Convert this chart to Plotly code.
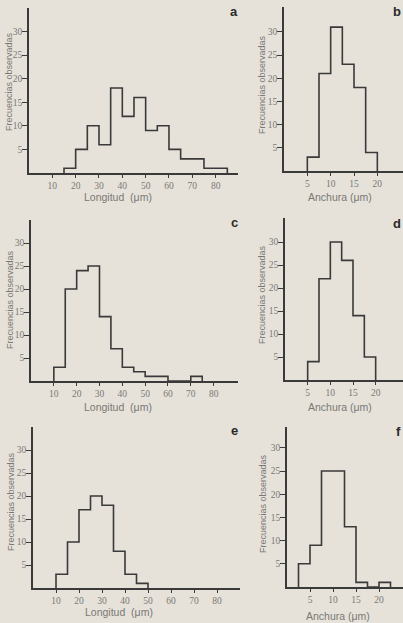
import plotly.graph_objects as go

W, H = 403, 623

# a: longitud (bins of 5 um)
a_edges = [15, 20, 25, 30, 35, 40, 45, 50, 55, 60, 65, 70, 75, 80, 85]
a_counts = [1, 5, 10, 6, 18, 12, 16, 9, 10, 5, 3, 3, 1, 1]
# b: anchura (bins of 2.5 um)
b_edges = [5, 7.5, 10, 12.5, 15, 17.5, 20]
b_counts = [3, 21, 31, 23, 18, 4]
# c: longitud
c_edges = [10, 15, 20, 25, 30, 35, 40, 45, 50, 55, 60, 65, 70, 75]
c_counts = [3, 20, 24, 25, 14, 7, 3, 2, 1, 1, 0, 0, 1]
# d: anchura
d_edges = [5, 7.5, 10, 12.5, 15, 17.5, 20]
d_counts = [4, 22, 30, 26, 14, 5]
# e: longitud
e_edges = [10, 15, 20, 25, 30, 35, 40, 45, 50]
e_counts = [3, 10, 17, 20, 18, 8, 3, 1]
# f: anchura
f_edges = [2.5, 5, 7.5, 10, 12.5, 15, 17.5, 20, 22.5]
f_counts = [5, 9, 25, 25, 13, 1, 0, 1]

long_ticks = [10, 20, 30, 40, 50, 60, 70, 80]
anch_ticks = [5, 10, 15, 20]
y_ticks = [5, 10, 15, 20, 25, 30]

panels = [
    # label, edges, counts, xticks, xtitle, px box (left, right, bottom, top), px/unit x, px/unit y,
    # label pos, y-title pos, x-title pos
    ("a", a_edges, a_counts, long_ticks, "Longitud  (μm)", (29, 238, 173, 8), 2.333, 4.72, (234, 12), (9, 82), (118, 197)),
    ("b", b_edges, b_counts, anch_ticks, "Anchura (μm)", (284, 403, 171, 7), 4.667, 4.64, (403, 12), (262, 85), (340, 197)),
    ("c", c_edges, c_counts, long_ticks, "Longitud  (μm)", (31, 238, 381, 220), 2.283, 4.6, (234, 222), (10, 300), (118, 407)),
    ("d", d_edges, d_counts, anch_ticks, "Anchura (μm)", (285, 403, 380, 218), 4.533, 4.6, (403, 223), (262, 295), (340, 407)),
    ("e", e_edges, e_counts, long_ticks, "Longitud  (μm)", (33, 240, 588, 427), 2.3, 4.6, (234, 430), (11, 502), (119, 612)),
    ("f", f_edges, f_counts, anch_ticks, "Anchura (μm)", (287, 403, 587, 427), 4.6, 4.64, (403, 432), (263, 504), (338, 616)),
]

INK = "#3a3a3a"
GREY = "#7a7874"
BG = "#e6e2da"

fig = go.Figure()
annotations = []

for i, (lab, edges, counts, xt, xtitle, geo, sx, sy, lab_pos, ytl_pos, xtl_pos) in enumerate(panels, start=1):
    left, right, bottom, top = geo
    xa = "xaxis" if i == 1 else f"xaxis{i}"
    ya = "yaxis" if i == 1 else f"yaxis{i}"
    xref = "x" if i == 1 else f"x{i}"
    yref = "y" if i == 1 else f"y{i}"

    # step outline of the histogram
    xs = [edges[0]] + list(edges)
    ys = [0] + list(counts) + [0]
    fig.add_trace(go.Scatter(
        x=xs, y=ys, mode="lines", line=dict(shape="hv", color=INK, width=1.6),
        xaxis=xref, yaxis=yref, showlegend=False, hoverinfo="skip",
    ))

    common = dict(
        showline=True, linecolor=INK, linewidth=1.6, showgrid=False, zeroline=False,
        ticks="outside", tickcolor=INK, tickwidth=1,
        tickfont=dict(family="Liberation Serif", size=9.5, color=GREY),
        fixedrange=True,
    )
    fig.update_layout({
        xa: dict(domain=[left / W, right / W], range=[0, (right - left) / sx],
                 tickvals=xt, anchor=yref, ticklen=3, **common),
        ya: dict(domain=[1 - bottom / H, 1 - top / H], range=[0, (bottom - top) / sy],
                 tickvals=y_ticks, anchor=xref, ticklen=5, ticklabelstandoff=-2, **common),
    })

    annotations.append(dict(
        text=f"<b>{lab}</b>", x=lab_pos[0] / W, y=1 - lab_pos[1] / H, xref="paper", yref="paper",
        showarrow=False, font=dict(family="Liberation Sans", size=13, color="#2a2a2a"),
        xanchor="right" if lab_pos[0] >= W else "center", yanchor="middle",
    ))
    annotations.append(dict(
        text="Frecuencias observadas", x=ytl_pos[0] / W, y=1 - ytl_pos[1] / H,
        xref="paper", yref="paper", showarrow=False, textangle=-90,
        font=dict(family="Liberation Sans", size=9, color=GREY),
        xanchor="center", yanchor="middle",
    ))
    annotations.append(dict(
        text=xtitle, x=xtl_pos[0] / W, y=1 - xtl_pos[1] / H,
        xref="paper", yref="paper", showarrow=False,
        font=dict(family="Liberation Sans", size=10.5, color=GREY),
        xanchor="center", yanchor="middle",
    ))

fig.update_layout(
    width=W, height=H, margin=dict(l=0, r=0, t=0, b=0),
    paper_bgcolor=BG, plot_bgcolor=BG, annotations=annotations,
)

# drop the default page margin so the figure sits at the window's corner
fig.write_html(
    "out.html",
    config={"displayModeBar": False},
    post_script="document.body.style.margin='0';",
)
